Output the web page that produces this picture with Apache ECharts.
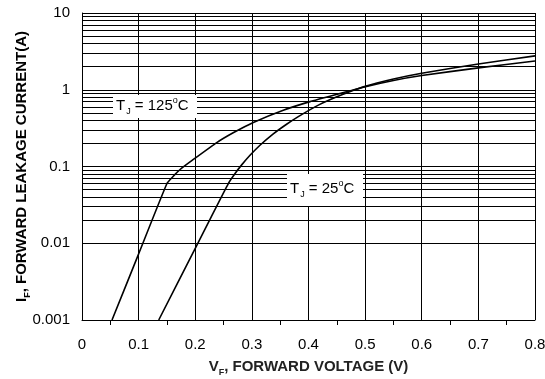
<!DOCTYPE html>
<html>
<head>
<meta charset="utf-8">
<script src="https://cdn.jsdelivr.net/npm/echarts@6/dist/echarts.min.js"></script>
<style>
  html, body { margin: 0; padding: 0; background: #fff; }
  #chart { width: 545px; height: 379px; }
</style>
</head>
<body>
<div id="chart"></div>
<script>
// forward voltage (V) vs forward current (A)
const tj125Volts = [0.053, 0.0995, 0.150, 0.160, 0.176, 0.195, 0.238, 0.267, 0.3025, 0.3555, 0.4026, 0.450, 0.497, 0.550, 0.600, 0.700, 0.800];
const tj125Amps  = [0.001, 0.0071, 0.060, 0.073, 0.095, 0.121, 0.205, 0.275, 0.375, 0.541, 0.70, 0.873, 1.08, 1.32, 1.53, 1.93, 2.37];
const tj25Volts = [0.1355, 0.200, 0.226, 0.2584, 0.270, 0.282, 0.2967, 0.3143, 0.3378, 0.360, 0.382, 0.420, 0.460, 0.497, 0.550, 0.600, 0.700, 0.800];
const tj25Amps  = [0.001, 0.0086, 0.0205, 0.060, 0.0805, 0.105, 0.140, 0.189, 0.266, 0.35, 0.447, 0.645, 0.867, 1.09, 1.38, 1.64, 2.17, 2.76];

const xTicks = ['0', '0.1', '0.2', '0.3', '0.4', '0.5', '0.6', '0.7', '0.8'];
const decades = [0.001, 0.01, 0.1, 1];
const minorSteps = [2, 3, 4, 5, 6, 7, 8, 9];

const FONT = '"Liberation Sans", Arial, sans-serif';

const pairs = (xs, ys) => xs.map((x, i) => [x, ys[i]]);

// horizontal log grid (2..9 inside each decade)
const minorLines = [];
decades.forEach(d => minorSteps.forEach(m => minorLines.push({ yAxis: +(d * m).toPrecision(3) })));

const chart = echarts.init(document.getElementById('chart'), null, { renderer: 'canvas' });

const curveStyle = { color: '#000', width: 1.6 };

// big text centred in the line, small subscript pinned to the line bottom
const nameRich = (color) => ({
  b: { fontSize: 15, fontWeight: 'bold', color: color, fontFamily: FONT, lineHeight: 21, verticalAlign: 'middle' },
  s: { fontSize: 9, fontWeight: 'bold', color: color, fontFamily: FONT, lineHeight: 10, verticalAlign: 'bottom' }
});

const tagRich = {
  t: { fontSize: 15, fontFamily: FONT, color: '#000', lineHeight: 20, verticalAlign: 'middle' },
  s: { fontSize: 9, fontFamily: FONT, color: '#000', lineHeight: 10, verticalAlign: 'bottom', padding: [0, 0, 0, 1] },
  p: { fontSize: 9, fontFamily: FONT, color: '#000', lineHeight: 10, verticalAlign: 'top' }
};

const tag = (bx, by, bw, bh, tx, ty, label) => ({
  type: 'group',
  children: [
    { type: 'rect', shape: { x: bx, y: by, width: bw, height: bh }, style: { fill: '#fff' }, z: 10 },
    {
      type: 'text', x: tx, y: ty, z: 11,
      style: { text: label, rich: tagRich, verticalAlign: 'top', align: 'left' }
    }
  ]
});

chart.setOption({
  animation: false,
  backgroundColor: '#fff',
  textStyle: { fontFamily: FONT },
  grid: { left: 82, right: 10, top: 13, bottom: 59, outerBoundsMode: 'none', containLabel: false },
  xAxis: {
    type: 'value',
    min: 0,
    max: 0.8,
    interval: 0.1,
    axisLine: { show: true, lineStyle: { color: '#000', width: 1 } },
    axisTick: { show: false },
    minorTick: { show: true, splitNumber: 2, length: 5, lineStyle: { color: '#000', width: 1 } },
    splitLine: { show: true, lineStyle: { color: '#000', width: 1 } },
    axisLabel: {
      color: '#000', fontSize: 15, margin: 17, fontFamily: FONT,
      formatter: (v) => xTicks[Math.round(v * 10)]
    },
    name: '{b|V}{s|F}{b|, FORWARD VOLTAGE (V)}',
    nameLocation: 'middle',
    nameMoveOverlap: false,
    nameGap: 36,
    nameTextStyle: { rich: nameRich('#222') }
  },
  yAxis: {
    type: 'log',
    logBase: 10,
    min: 0.001,
    max: 10,
    axisLine: { show: true, lineStyle: { color: '#000', width: 1 } },
    axisTick: { show: false },
    splitLine: { show: true, lineStyle: { color: '#000', width: 1 } },
    axisLabel: {
      color: '#000', fontSize: 15, margin: 12, fontFamily: FONT,
      formatter: (v) => String(+v.toPrecision(3))
    },
    name: '{b|I}{s|F}{b|, FORWARD LEAKAGE CURRENT(A)}',
    nameLocation: 'middle',
    nameRotate: 90,
    nameMoveOverlap: false,
    nameGap: 50,
    nameTextStyle: { rich: nameRich('#000') }
  },
  series: [
    {
      name: 'TJ = 125°C',
      type: 'line',
      data: pairs(tj125Volts, tj125Amps),
      showSymbol: false,
      smooth: 0.15,
      lineStyle: curveStyle,
      z: 5,
      markLine: {
        silent: true,
        symbol: 'none',
        label: { show: false },
        lineStyle: { color: '#000', width: 1, type: 'solid' },
        data: minorLines,
        z: 1
      }
    },
    {
      name: 'TJ = 25°C',
      type: 'line',
      data: pairs(tj25Volts, tj25Amps),
      showSymbol: false,
      smooth: 0.15,
      lineStyle: curveStyle,
      z: 5
    }
  ],
  graphic: [
    tag(113, 95, 84, 23, 116, 96, '{t|T}{s|J}{t| = 125}{p|o}{t|C}'),
    tag(287, 174, 76, 32, 290, 179, '{t|T}{s|J}{t| = 25}{p|o}{t|C}')
  ]
});
</script>
</body>
</html>
